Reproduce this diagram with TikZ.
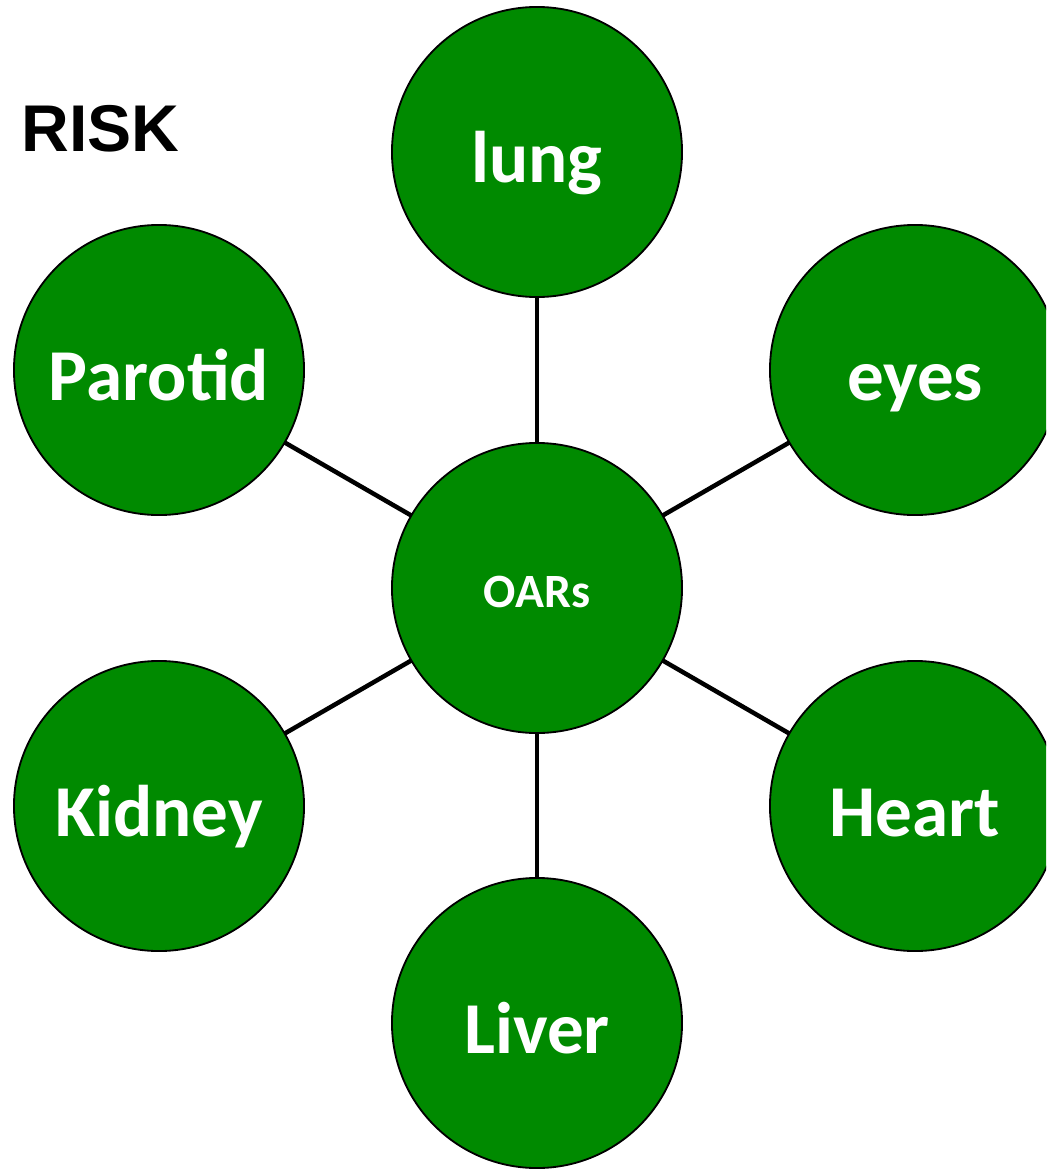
\documentclass[tikz,border=0pt]{standalone}
\usepackage{fontspec}
\usepackage{tikz}
\usetikzlibrary{positioning}
\newfontfamily\organfont{Carlito}
\newfontfamily\titlefont{Liberation Sans}
\definecolor{oargreen}{RGB}{0,138,0}

\begin{document}
\begin{tikzpicture}[x=0.025cm,y=-0.025cm,
    organ/.style={circle,draw=black,line width=1.3pt,fill=oargreen,text=white,
      minimum size=7.25cm,inner sep=0pt,outer sep=0pt,text height=44pt,text depth=0pt,
      font=\organfont\bfseries\fontsize{52}{60}\selectfont},
    link/.style={line width=3.2pt,black}]
  \useasboundingbox (0,0) rectangle (1046,1169);
  \clip (0,0) rectangle (1046,1169);
  \node[anchor=base west,inner sep=0pt,font=\titlefont\bfseries\fontsize{47}{56}\selectfont]
    (title) at (21,152) {RISK};
  % hub and the six organs round it
  \node[organ,text height=28pt,font=\organfont\bfseries\fontsize{34}{40}\selectfont] (oar) at (537,588) {OARs};
  \node[organ] (lung) at (537,152) {lung};
  \node[organ] (eyes) at (915,370) {eyes};
  \node[organ] (heart) at (915,806) {Heart};
  \node[organ] (liver) at (537,1023) {Liver};
  \node[organ] (kidney) at (159,806) {Kidney};
  \node[organ] (parotid) at (159,370) {Parotid};
  \foreach \o in {lung,eyes,heart,liver,kidney,parotid}
    \draw[link] (oar) -- (\o);
\end{tikzpicture}
\end{document}
